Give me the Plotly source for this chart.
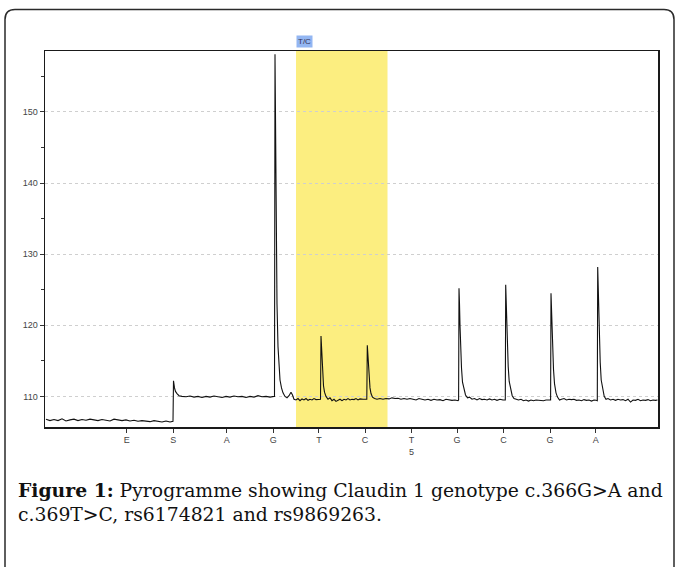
import plotly.graph_objects as go

# ---- data (x = time units, y = signal) ----
dispensation_labels = ["E", "S", "A", "G", "T", "C", "T<br>5", "G", "C", "G", "A"]
dispensation_times = [8.18, 12.82, 18.18, 22.82, 27.39, 32.0, 36.64, 41.21, 45.86, 50.5, 55.07]

snp_label = "T/C"
snp_window = [25.1, 34.25]

trace_time = [
    0.1, 0.5, 0.9, 1.3, 1.7, 2.1, 2.5, 2.9, 3.3, 3.7, 4.1, 4.5, 4.9, 5.3, 5.7, 6.1, 6.5, 6.9,
    7.3, 7.7, 8.1, 8.5, 8.9, 9.3, 9.7, 10.1, 10.5, 10.9, 11.3, 11.7, 12.1, 12.5, 12.8,
    12.85, 12.9, 12.95, 13.05, 13.2, 13.4, 13.7,
    14.1, 14.5, 14.9, 15.3, 15.7, 16.1, 16.5, 16.9, 17.3, 17.7, 18.1, 18.5, 18.9, 19.3, 19.7,
    20.1, 20.5, 20.9, 21.3, 21.7, 22.1, 22.5, 22.9,
    22.95, 23.0, 23.05, 23.1, 23.15, 23.2, 23.3, 23.4, 23.5, 23.65, 23.8, 24.0, 24.2, 24.4,
    24.6, 24.75, 24.9, 25.1,
    25.3, 25.5, 25.7, 25.9, 26.1, 26.3, 26.5, 26.7, 26.9, 27.1, 27.3,
    27.55, 27.6, 27.65, 27.7, 27.75, 27.85, 27.95, 28.1, 28.3, 28.5, 28.7, 28.9, 29.1, 29.3,
    29.5, 29.7, 29.9, 30.1, 30.3, 30.5, 30.7, 30.9, 31.1, 31.3, 31.5, 31.8,
    32.18, 32.23, 32.28, 32.33, 32.4, 32.5, 32.6, 32.75, 32.95, 33.2, 33.5, 33.8, 34.1, 34.4,
    34.7, 35.0, 35.3, 35.6, 35.9, 36.2, 36.5, 36.8, 37.1, 37.4, 37.7, 38.0, 38.3, 38.6, 38.9,
    39.2, 39.5, 39.8, 40.1, 40.4, 40.7, 41.0, 41.3,
    41.36, 41.4, 41.45, 41.5, 41.55, 41.65, 41.75, 41.9, 42.05, 42.25, 42.45, 42.7, 42.95,
    43.2, 43.45, 43.7, 43.95, 44.2, 44.45, 44.7, 44.95, 45.2, 45.5, 45.8,
    46.03, 46.07, 46.12, 46.17, 46.22, 46.32, 46.42, 46.57, 46.72, 46.9, 47.1, 47.35, 47.6,
    47.85, 48.1, 48.35, 48.6, 48.85, 49.1, 49.35, 49.6, 49.85, 50.1, 50.4,
    50.56, 50.6, 50.65, 50.7, 50.75, 50.85, 50.95, 51.1, 51.25, 51.45, 51.65, 51.9, 52.15,
    52.4, 52.65, 52.9, 53.15, 53.4, 53.65, 53.9, 54.15, 54.4, 54.65, 54.9, 55.1,
    55.23, 55.27, 55.32, 55.37, 55.42, 55.52, 55.62, 55.77, 55.92, 56.1, 56.3, 56.55, 56.8,
    57.05, 57.3, 57.55, 57.8, 58.05, 58.3, 58.55, 58.8, 59.05, 59.3, 59.55, 59.8, 60.05,
    60.3, 60.55, 60.8, 61.05, 61.25,
]

trace_signal = [
    106.8, 106.6, 106.75, 106.6, 106.85, 106.55, 106.7, 106.8, 106.6, 106.75, 106.65, 106.8,
    106.7, 106.6, 106.75, 106.7, 106.55, 106.8, 106.65, 106.6, 106.7, 106.55, 106.65, 106.5,
    106.6, 106.55, 106.45, 106.6, 106.5, 106.4, 106.55, 106.4, 106.5,
    112.2, 111.7, 111.2, 110.7, 110.4, 110.1, 110.0,
    109.95, 110.05, 109.9, 110.0, 109.85, 110.0, 109.9, 110.05, 109.95, 109.85, 110.0, 109.9,
    110.05, 109.95, 110.0, 109.85, 110.0, 109.9, 110.1, 109.95, 110.0, 109.9, 110.0,
    110.0, 158.1, 149.0, 138.0, 129.0, 123.0, 117.0, 114.0, 112.3, 111.2, 110.5, 110.0, 109.8,
    110.1, 110.6, 110.2, 109.6, 109.5,
    109.7, 109.4, 109.65, 109.5, 109.7, 109.45, 109.6, 109.5, 109.7, 109.55, 109.6,
    109.6, 118.5, 117.0, 115.0, 113.3, 111.5, 110.6, 110.0, 109.6, 109.8, 109.4, 109.6, 109.3,
    109.5, 109.6, 109.4, 109.6, 109.5, 109.7, 109.5, 109.6, 109.55, 109.7, 109.5, 109.65, 109.6,
    109.6, 117.2, 116.0, 114.2, 112.6, 111.2, 110.4, 109.9, 109.7, 109.6, 109.7, 109.6, 109.7,
    109.65, 109.8, 109.7, 109.75, 109.6, 109.7, 109.6, 109.7, 109.6, 109.5, 109.7, 109.6,
    109.5, 109.6, 109.45, 109.6, 109.5, 109.55, 109.4, 109.6, 109.5, 109.45, 109.5, 109.4,
    109.5, 125.2, 123.0, 120.0, 117.2, 114.0, 112.0, 110.8, 110.2, 109.8, 109.9, 109.6, 109.7,
    109.5, 109.7, 109.55, 109.6, 109.5, 109.65, 109.5, 109.6, 109.45, 109.6, 109.5,
    109.5, 125.7, 123.5, 120.4, 117.5, 114.2, 112.1, 110.8, 110.1, 109.7, 109.6, 109.5, 109.6,
    109.4, 109.5, 109.35, 109.5, 109.4, 109.5, 109.45, 109.5, 109.4, 109.5, 109.45,
    109.5, 124.5, 122.4, 119.6, 116.9, 113.8, 111.8, 110.5, 109.9, 109.5, 109.6, 109.7, 109.5,
    109.6, 109.55, 109.6, 109.45, 109.5, 109.4, 109.55, 109.45, 109.5, 109.35, 109.5, 109.45,
    109.4, 128.2, 125.6, 122.0, 118.6, 114.8, 112.3, 110.8, 110.0, 109.6, 109.7, 109.5, 109.6,
    109.45, 109.6, 109.5, 109.55, 109.4, 109.6, 109.2, 109.5, 109.45, 109.6, 109.4, 109.5,
    109.45, 109.55, 109.4, 109.5, 109.45, 109.5,
]

y_major = [110, 120, 130, 140, 150]

caption_bold = "Figure 1:"
caption_text = ("Pyrogramme showing Claudin 1 genotype c.366G>A and<br>"
                "c.369T>C, rs6174821 and rs9869263.")

# ---- figure (body margin removed by post_script, so figure px == page px) ----
W, H = 678, 567
ML, MR, MT, MB = 45, 20, 51, 140
PW, PH = W - ML - MR, H - MT - MB


def px2paper_x(px):
    return (px - ML) / PW


def px2paper_y(py):
    return (H - MB - py) / PH


fig = go.Figure()
fig.add_trace(go.Scatter(
    x=trace_time, y=trace_signal, mode="lines",
    line=dict(color="#111111", width=1.1), hoverinfo="skip", showlegend=False,
))

# SNP window highlight
fig.add_shape(type="rect", xref="x", yref="paper",
              x0=snp_window[0], x1=snp_window[1], y0=0, y1=1,
              fillcolor="#FCEE80", line=dict(width=0), layer="between")

fig.add_annotation(xref="x", yref="paper", x=snp_window[0], y=1,
                   xanchor="left", yanchor="bottom", yshift=3,
                   text=snp_label, showarrow=False,
                   font=dict(family="Liberation Sans", size=8, color="#333355"),
                   bgcolor="#93B6F2", borderpad=1)

# outer rounded frame
xl, xr = px2paper_x(5), px2paper_x(674)
yt, yb = px2paper_y(9.5), px2paper_y(580)
rx, ry = 10 / PW, 10 / PH
path = (f"M {xl},{yb} L {xl},{yt - ry} Q {xl},{yt} {xl + rx},{yt} "
        f"L {xr - rx},{yt} Q {xr},{yt} {xr},{yt - ry} L {xr},{yb}")
fig.add_shape(type="path", xref="paper", yref="paper", path=path,
              line=dict(color="#2a2a2a", width=1.5))

# caption
fig.add_annotation(xref="paper", yref="paper",
                   x=px2paper_x(16), y=px2paper_y(477),
                   xanchor="left", yanchor="top", align="left", showarrow=False,
                   text=f"<b>{caption_bold}</b> {caption_text}",
                   font=dict(family="DejaVu Serif", size=18.8, color="#111111"))

fig.update_layout(
    width=W, height=H,
    margin=dict(l=ML, r=MR, t=MT, b=MB, pad=0),
    paper_bgcolor="white", plot_bgcolor="white",
    showlegend=False, hovermode=False,
    xaxis=dict(
        range=[0, PW / 10], tickmode="array",
        tickvals=dispensation_times, ticktext=dispensation_labels,
        ticks="outside", ticklen=4, tickcolor="#333", tickwidth=1,
        showgrid=False, zeroline=False,
        showline=True, mirror=True, linecolor="#1a1a1a", linewidth=1.5,
        tickfont=dict(family="Liberation Sans", size=9, color="#444"),
    ),
    yaxis=dict(
        range=[105.7, 158.56], tickmode="array", tickvals=y_major,
        ticks="outside", ticklen=4, tickcolor="#333", tickwidth=1,
        minor=dict(dtick=5, tick0=105, ticks="outside", ticklen=3, tickcolor="#333", showgrid=False),
        showgrid=True, gridcolor="#cfcfcf", griddash="dot", gridwidth=1,
        zeroline=False,
        showline=True, mirror=True, linecolor="#1a1a1a", linewidth=1.5,
        tickfont=dict(family="Liberation Sans", size=9, color="#444"),
    ),
)

fig.write_html("out.html", config={"displayModeBar": False, "staticPlot": True},
               post_script="document.body.style.margin='0';document.body.style.overflow='hidden';")
